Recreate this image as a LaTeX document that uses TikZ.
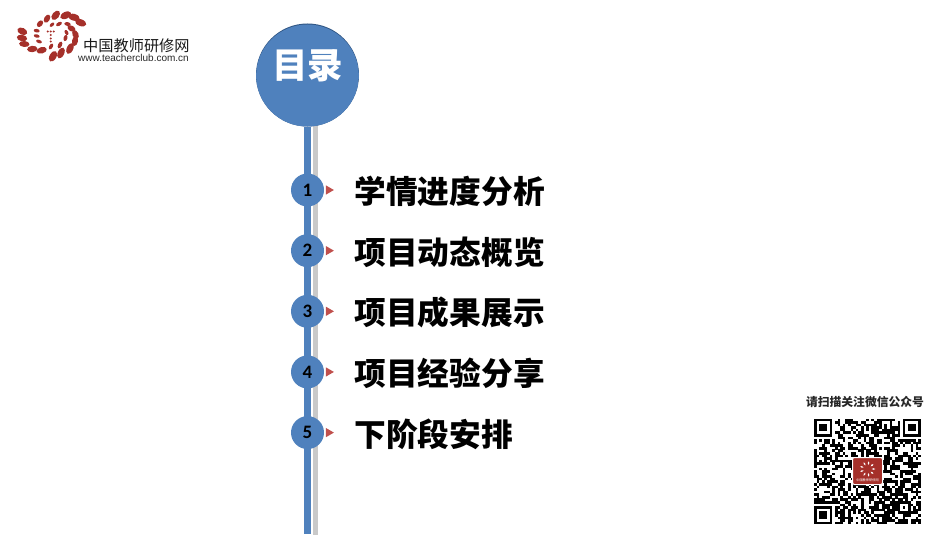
\documentclass[tikz,border=0pt]{standalone}
\usepackage{fontspec}
\usepackage{tikz}
\usetikzlibrary{shapes,positioning,calc,backgrounds}
\usetikzlibrary{shapes.geometric}
\newfontfamily\cjk{Noto Sans CJK SC}
\setmainfont{Liberation Sans}
\newfontfamily\carlito{Carlito}
\definecolor{mainblue}{HTML}{4F81BD}
\definecolor{darkblue}{HTML}{2F5583}
\definecolor{bargray}{HTML}{C9C9C9}
\definecolor{tipred}{HTML}{C0504D}
\definecolor{logored}{HTML}{A5302A}
\tikzstyle{title} = [circle, minimum size=103pt, inner sep=0pt, fill=darkblue, text=white, font=\cjk\bfseries\fontsize{35.5}{37}\selectfont, path picture={\fill[mainblue] ($(path picture bounding box.center)+(0,0.9)$) circle (51.4);}]
\tikzstyle{num} = [circle, minimum size=33pt, inner sep=0pt, fill=mainblue, text=black, font=\carlito\bfseries\fontsize{19}{20}\selectfont]
\tikzstyle{tip} = [isosceles triangle, isosceles triangle apex angle=60, minimum height=8pt, minimum width=8pt, inner sep=0pt, fill=tipred]
\tikzstyle{entry} = [inner sep=0pt, text height=24pt, text depth=6pt, text=black, font=\cjk\bfseries\fontsize{31.7}{33}\selectfont]
\tikzstyle{petal} = [fill=logored]

\begin{document}
\begin{tikzpicture}[x=1pt,y=-1pt]
	\useasboundingbox (0,0) rectangle (950,535);
	
	% TIMELINE
	
	\node [title] (mulu) at (307.5,75) {\raisebox{-3pt}[0pt][0pt]{目录}};
	\coordinate (blueend) at (307.5,534);
	\coordinate (grayend) at (315.5,535);
	\coordinate (graystart) at (315.5,110);
	\begin{scope}[on background layer]
		\draw [bargray, line width=5pt] (graystart) -- (grayend);
		\draw [mainblue, line width=7pt] (mulu) -- (blueend);
	\end{scope}
	
	\node [num] (num1) at (307.5,190) {1};
	\node [num, below=27.25pt of num1] (num2) {2};
	\node [num, below=27.25pt of num2] (num3) {3};
	\node [num, below=27.25pt of num3] (num4) {4};
	\node [num, below=27.25pt of num4] (num5) {5};
	
	\node [tip, right=1.5pt of num1] (tip1) {};
	\node [tip, right=1.5pt of num2] (tip2) {};
	\node [tip, right=1.5pt of num3] (tip3) {};
	\node [tip, right=1.5pt of num4] (tip4) {};
	\node [tip, right=1.5pt of num5] (tip5) {};
	
	\node [entry, right=20pt of tip1, yshift=-4.5pt] (entry1) {学情进度分析};
	\node [entry, right=20pt of tip2, yshift=-4.5pt] (entry2) {项目动态概览};
	\node [entry, right=20pt of tip3, yshift=-4.5pt] (entry3) {项目成果展示};
	\node [entry, right=20pt of tip4, yshift=-4.5pt] (entry4) {项目经验分享};
	\node [entry, right=20pt of tip5, yshift=-4.5pt] (entry5) {下阶段安排};
	
	% LOGO
	
	\foreach \x/\y/\a/\b/\r in {55.7/15.3/5.4/3.4/50, 65.7/15.3/5.8/3.4/25, 74/17.3/5.8/3.4/-15, 80.7/22.7/5.8/3.4/-20,
		47/18.7/4.4/2.8/60, 40/23.7/3.8/2.6/50, 22.3/31.3/5.2/3.4/-25, 22/38/5.2/3.2/-10, 24.3/44/5.2/3/-5,
		32.3/49/5.2/3.2/5, 41.7/50.3/5.2/3.2/15, 53/56.3/5.8/3.4/60, 61/53/5.8/3.2/65, 70/48.5/5.8/3.2/65,
		75/41/5/3/80, 75.5/34.5/4.6/3/-65, 71.5/28.5/4.4/2.8/-30,
		52/24.7/2.8/1.6/40, 59/24/3.2/1.8/30, 67.5/24/3.2/1.9/-10, 36.7/30.7/3/1.8/-10, 36.7/36/3/1.7/-15,
		39/41.5/3/1.7/-20, 51/46.5/3.2/1.8/60, 60/45/3.6/2/65, 65.5/38/3.2/1.9/75, 66.5/32.5/2.8/1.7/-60,
		47.7/31.5/1.1/1.1/0, 50.7/31.5/1.1/1.1/0, 53.7/31.5/1.1/1.1/0, 50.7/35/1.1/1.1/0, 50.7/38.5/1.1/1.1/0, 50.7/41.5/1.1/1.1/0}
		\fill [petal, shift={(\x,\y)}, rotate=\r] (0,0) ellipse (\a pt and \b pt);
	\node [anchor=west, inner sep=0pt, text=black!90, font=\cjk\fontsize{15.2}{16}\selectfont] (logoname) at (83,45.5) {中国教师研修网};
	\node [anchor=west, inner sep=0pt, text=black!85, font=\fontsize{10}{11}\selectfont] (logourl) at (78,58) {www.teacherclub.com.cn};
	
	% QR CODE
	
	\node [anchor=center, inner sep=0pt, text=black!85, font=\cjk\bfseries\fontsize{11.8}{13}\selectfont] (qrtitle) at (865,401.5) {请扫描关注微信公众号};
	\begin{scope}[shift={(814,418.5)}, x=2.61pt, y=-2.58pt]
		\pgfmathsetseed{23}
		\foreach \r in {0,...,40}
			\foreach \c in {0,...,40} {
				\pgfmathtruncatemacro\cell{(rnd<0.56) && !(\r<8 && \c<8) && !(\r<8 && \c>32) && !(\r>32 && \c<8)}
				\ifnum\cell=1 \fill (\c,\r) rectangle ++(1.02,1.02); \fi
			}
		\foreach \c/\r in {0/0, 34/0, 0/34} {
			\fill (\c,\r) rectangle ++(7,7);
			\fill [white] (\c+1,\r+1) rectangle ++(5,5);
			\fill (\c+2,\r+2) rectangle ++(3,3);
		}
		\fill (32,32) rectangle ++(5,5);
		\fill [white] (33,33) rectangle ++(3,3);
		\fill (34,34) rectangle ++(1,1);
	\end{scope}
	\node [rounded corners=2pt, fill=logored, draw=white, line width=1pt, minimum width=30pt, minimum height=27pt, inner sep=0pt] (qrlogo) at (867.5,471) {};
	\foreach \a in {0,40,...,320}
		\fill [white, shift={(qrlogo.center)}, yshift=2pt, rotate=\a] (6,0) ellipse (1.8pt and 0.8pt);
	\node [below=0pt of qrlogo.center, yshift=-7.5pt, inner sep=0pt, text=white, font=\cjk\fontsize{3.2}{4}\selectfont] (qrlogotext) {中国教师研修网};
\end{tikzpicture}
\end{document}
